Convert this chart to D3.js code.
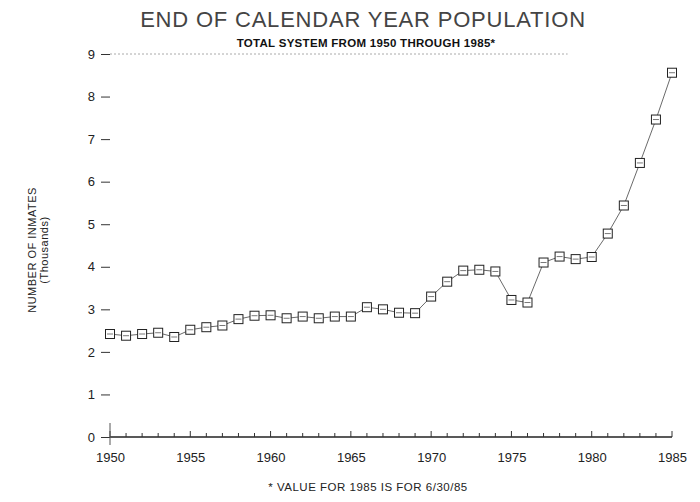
<!DOCTYPE html>
<html lang="en">
<head>
    <meta charset="UTF-8">
    <script src="https://d3js.org/d3.v7.min.js"></script>
    <style>
        body { margin: 0; background: #fff; font-family: "Liberation Sans", Arial, sans-serif; }
        .title { font-size: 22px; fill: #444; letter-spacing: 0.8px; }
        .subtitle { font-size: 11.5px; fill: #111; font-weight: bold; letter-spacing: 0.3px; }
        .note { font-size: 11.5px; fill: #222; letter-spacing: 0.5px; }
        .ylab { font-size: 11px; fill: #222; letter-spacing: 0.5px; }
        .tick text { font-size: 13px; fill: #222; }
    </style>
</head>
<body>
    <svg id="chart" width="700" height="502"></svg>
    <script>
        const years = d3.range(1950, 1986);
        const inmates = [
            2.42, 2.38, 2.42, 2.45, 2.35, 2.52, 2.58, 2.62, 2.77, 2.85,
            2.86, 2.79, 2.83, 2.79, 2.83, 2.83, 3.05, 3.00, 2.92, 2.91,
            3.30, 3.65, 3.91, 3.93, 3.89, 3.22, 3.16, 4.10, 4.24, 4.18,
            4.23, 4.78, 5.44, 6.44, 7.46, 8.56
        ];
        const yTicks = [0, 1, 2, 3, 4, 5, 6, 7, 8, 9];
        const xTicks = [1950, 1955, 1960, 1965, 1970, 1975, 1980, 1985];

        const data = years.map((y, i) => ({ year: y, value: inmates[i] }));

        const margin = { top: 54, right: 28, bottom: 65, left: 110 },
              width = 700 - margin.left - margin.right,
              height = 502 - margin.top - margin.bottom;

        const root = d3.select("#chart");
        const svg = root.append("g")
            .attr("transform", `translate(${margin.left},${margin.top})`);

        const x = d3.scaleLinear().domain([1950, 1985]).range([0, width]);
        const y = d3.scaleLinear().domain([0, 9]).range([height, 0]);

        // titles
        root.append("text").attr("class", "title")
            .attr("x", 363).attr("y", 27).attr("text-anchor", "middle")
            .text("END OF CALENDAR YEAR POPULATION");
        root.append("text").attr("class", "subtitle")
            .attr("x", 366).attr("y", 47).attr("text-anchor", "middle")
            .text("TOTAL SYSTEM FROM 1950 THROUGH 1985*");
        root.append("text").attr("class", "note")
            .attr("x", 368).attr("y", 491).attr("text-anchor", "middle")
            .text("* VALUE FOR 1985 IS FOR 6/30/85");

        const yl = root.append("text").attr("class", "ylab")
            .attr("transform", "translate(36,250) rotate(-90)")
            .attr("text-anchor", "middle");
        yl.append("tspan").attr("x", 0).attr("dy", 0).text("NUMBER OF INMATES");
        yl.append("tspan").attr("x", 0).attr("dy", 12).text("(Thousands)");

        // dotted line at the top
        svg.append("line")
            .attr("x1", 0).attr("x2", x(1978.5))
            .attr("y1", y(9)).attr("y2", y(9))
            .attr("stroke", "#aaa").attr("stroke-dasharray", "2,2");

        // y axis: short dashes left of the plot, no spine
        const yAxis = svg.append("g")
            .call(d3.axisLeft(y).tickValues(yTicks).tickSize(9).tickPadding(6).tickFormat(d3.format("d")));
        yAxis.select(".domain").remove();
        yAxis.selectAll(".tick line").attr("stroke", "#333");

        // x axis: ticks pointing up
        const xAxis = svg.append("g")
            .attr("transform", `translate(0,${height})`);
        xAxis.append("line")
            .attr("x1", x(1950)).attr("x2", x(1985))
            .attr("stroke", "#222").attr("stroke-width", 1.3);
        xAxis.selectAll(".minor")
            .data(years)
            .enter().append("line")
            .attr("x1", d => x(d)).attr("x2", d => x(d))
            .attr("y1", 0).attr("y2", d => d % 5 === 0 ? -6 : -4)
            .attr("stroke", "#333");
        xAxis.append("line")
            .attr("x1", x(1950)).attr("x2", x(1950))
            .attr("y1", -14).attr("y2", 8).attr("stroke", "#555");
        xAxis.call(d3.axisBottom(x).tickValues(xTicks).tickSize(0).tickPadding(16).tickFormat(d3.format("d")));
        xAxis.select(".domain").remove();

        // line
        svg.append("path")
            .datum(data)
            .attr("fill", "none")
            .attr("stroke", "#444")
            .attr("stroke-width", 0.8)
            .attr("d", d3.line().x(d => x(d.year)).y(d => y(d.value)));

        // square markers
        const s = 9;
        svg.selectAll(".pt")
            .data(data)
            .enter().append("rect")
            .attr("class", "pt")
            .attr("x", d => x(d.year) - s / 2)
            .attr("y", d => y(d.value) - s / 2)
            .attr("width", s).attr("height", s)
            .attr("fill", "#fff")
            .attr("stroke", "#222")
            .attr("stroke-width", 1);
        svg.selectAll(".pti")
            .data(data)
            .enter().append("line")
            .attr("x1", d => x(d.year) - s / 2 + 1.5)
            .attr("x2", d => x(d.year) + s / 2 - 1.5)
            .attr("y1", d => y(d.value))
            .attr("y2", d => y(d.value))
            .attr("stroke", "#555").attr("stroke-width", 0.8);
    </script>
</body>
</html>
